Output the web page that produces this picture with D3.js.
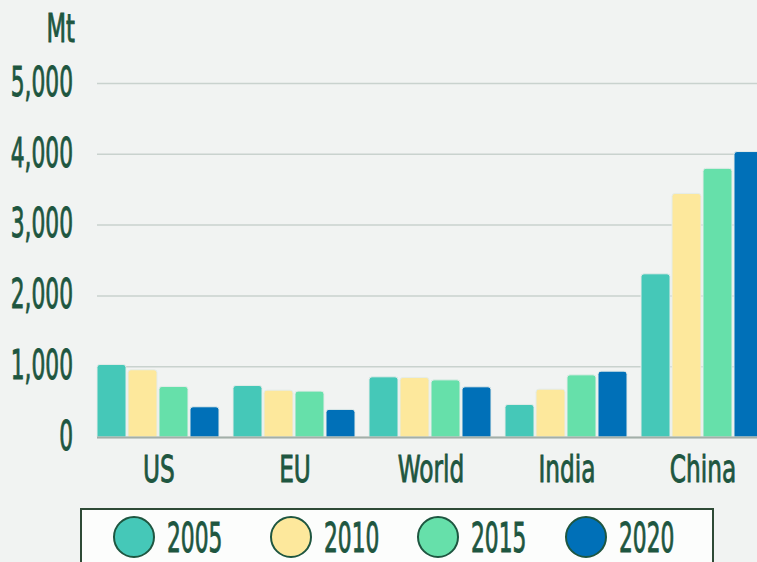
<!DOCTYPE html>
<html>
<head>
<meta charset="utf-8">
<script src="https://cdn.jsdelivr.net/npm/d3@7"></script>
<style>
  html, body { margin: 0; padding: 0; background: #f1f3f2; }
  svg { display: block; }
  text { font-family: "Liberation Sans Narrow", "DejaVu Sans Condensed", sans-serif; fill: #1e5640; stroke: #1e5640; stroke-width: 0.9px; }
</style>
</head>
<body>
<div id="chart"></div>
<script>
// data
const regions = ["US", "EU", "World", "India", "China"];
const years = ["2005", "2010", "2015", "2020"];
const values2005 = [1025, 728, 850, 460, 2305];
const values2010 = [950, 662, 841, 676, 3440];
const values2015 = [714, 648, 807, 878, 3795];
const values2020 = [427, 390, 709, 930, 4032];
const yTicks = [0, 1000, 2000, 3000, 4000, 5000];
const yUnit = "Mt";

const seriesByYear = [values2005, values2010, values2015, values2020];
const colors = ["#45c8b8", "#fde89c", "#66e0aa", "#0070b8"];

const width = 757, height = 562;
const squeezeNum = 0.59;   // digits
const squeezeWord = 0.68;  // words

const svg = d3.select("#chart").append("svg")
    .attr("width", width)
    .attr("height", height);

svg.append("rect").attr("width", width).attr("height", height).attr("fill", "#f1f3f2");

const x = d3.scaleBand()
    .domain(regions)
    .range([97, 765])
    .paddingInner(12 / 136)
    .paddingOuter(0);

const xInner = d3.scaleBand()
    .domain(years)
    .range([0, 122])
    .paddingInner(2 / 31);

const y = d3.scaleLinear()
    .domain([0, 5000])
    .range([437, 83]);

// y axis with gridlines
const yAxis = svg.append("g")
    .attr("transform", "translate(97,0)")
    .call(d3.axisLeft(y)
        .tickValues(yTicks)
        .tickSize(-(width - 97))
        .tickPadding(24)
        .tickFormat(d3.format(",")));
yAxis.select(".domain").remove();
yAxis.selectAll(".tick line").attr("stroke", "#c9d2ce").attr("stroke-width", 1.5);
yAxis.selectAll(".tick text")
    .style("font-size", "41px")
    .attr("x", -24 / squeezeNum)
    .attr("dy", "0.3em")
    .attr("transform", `scale(${squeezeNum},1)`);

svg.append("text")
    .attr("transform", `translate(75,42) scale(${squeezeWord * 0.95},1)`)
    .attr("text-anchor", "end")
    .style("font-size", "39px")
    .text(yUnit);

// bars
function topRounded(x0, y0, w, h, r) {
    r = Math.min(r, h, w / 2);
    return `M${x0},${y0 + h}V${y0 + r}Q${x0},${y0} ${x0 + r},${y0}H${x0 + w - r}Q${x0 + w},${y0} ${x0 + w},${y0 + r}V${y0 + h}Z`;
}

const groups = svg.append("g").selectAll("g")
    .data(regions)
    .join("g")
    .attr("transform", d => `translate(${x(d)},0)`);

groups.selectAll("path")
    .data((d, i) => years.map((yr, j) => ({ year: yr, value: seriesByYear[j][i], color: colors[j] })))
    .join("path")
    .attr("d", d => topRounded(xInner(d.year), y(d.value), xInner.bandwidth(), y(0) - y(d.value), 3))
    .attr("fill", d => d.color)
    .attr("stroke", "#e4ece9")
    .attr("stroke-width", 1);

// baseline
svg.append("line")
    .attr("x1", 97).attr("x2", width)
    .attr("y1", y(0) + 0.5).attr("y2", y(0) + 0.5)
    .attr("stroke", "#a3afa9")
    .attr("stroke-width", 2);

// x axis labels
const xAxis = svg.append("g")
    .attr("transform", `translate(0,${y(0)})`)
    .call(d3.axisBottom(x).tickSize(0).tickPadding(0));
xAxis.select(".domain").remove();
xAxis.selectAll(".tick text")
    .style("font-size", "38px")
    .attr("y", 45)
    .attr("dy", 0)
    .attr("transform", `scale(${squeezeWord},1)`);

// legend
const legend = svg.append("g");
legend.append("rect")
    .attr("x", 81).attr("y", 509)
    .attr("width", 632).attr("height", 70)
    .attr("fill", "#fcfdfc")
    .attr("stroke", "#2e4a36")
    .attr("stroke-width", 2);

// legend slots are a little uneven in the original
const lx = d3.scaleOrdinal().domain(years).range([134, 291, 438, 586]);

const items = legend.selectAll("g.item")
    .data(years)
    .join("g")
    .attr("class", "item")
    .attr("transform", d => `translate(${lx(d)},537)`);

items.append("ellipse")
    .attr("rx", 20).attr("ry", 20)
    .attr("fill", (d, i) => colors[i])
    .attr("stroke", "#1e5640")
    .attr("stroke-width", 2);

items.append("text")
    .attr("transform", `translate(33,15) scale(${squeezeNum},1)`)
    .style("font-size", "41px")
    .text(d => d);
</script>
</body>
</html>
